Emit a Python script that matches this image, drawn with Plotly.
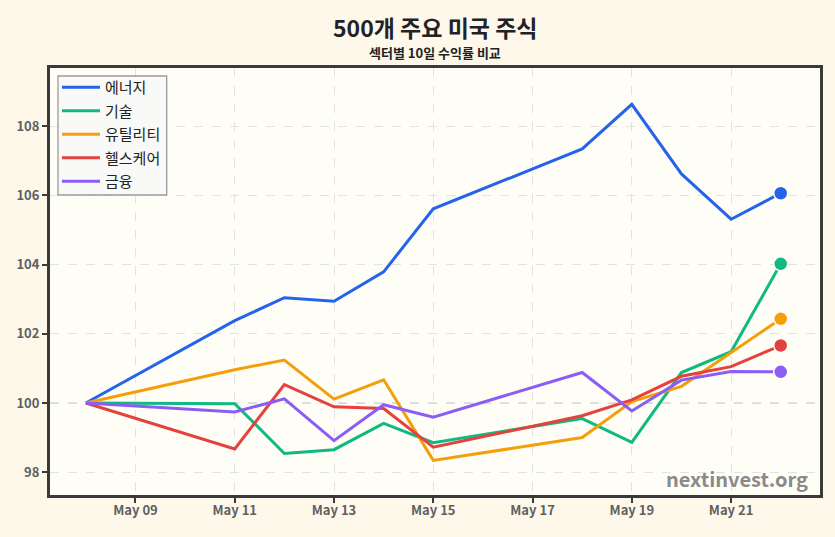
import plotly.graph_objects as go

dates = ["2020-05-08", "2020-05-11", "2020-05-12", "2020-05-13", "2020-05-14",
         "2020-05-15", "2020-05-18", "2020-05-19", "2020-05-20", "2020-05-21", "2020-05-22"]

sector_names = ["에너지", "기술", "유틸리티", "헬스케어", "금융"]
energy = [100, 102.38, 103.04, 102.94, 103.79, 105.61, 107.34, 108.63, 106.62, 105.31, 106.06]
tech = [100, 99.98, 98.54, 98.65, 99.41, 98.85, 99.55, 98.86, 100.88, 101.48, 104.02]
utilities = [100, 100.96, 101.24, 100.11, 100.67, 98.34, 99.00, 100.04, 100.48, 101.45, 102.43]
health = [100, 98.67, 100.53, 99.89, 99.84, 98.72, 99.63, 100.09, 100.77, 101.05, 101.66]
finance = [100, 99.74, 100.12, 98.91, 99.95, 99.59, 100.88, 99.77, 100.66, 100.91, 100.90]
series = [energy, tech, utilities, health, finance]
colors = ["#2563eb", "#10b981", "#f59e0b", "#e5413f", "#8b5cf6"]

tick_dates = ["2020-05-09", "2020-05-11", "2020-05-13", "2020-05-15",
              "2020-05-17", "2020-05-19", "2020-05-21"]
tick_labels = ["May 09", "May 11", "May 13", "May 15", "May 17", "May 19", "May 21"]
y_ticks = [98, 100, 102, 104, 106, 108]

fig = go.Figure()
for i, (name, vals, col) in enumerate(zip(sector_names, series, colors)):
    fig.add_trace(go.Scatter(
        x=dates, y=vals, mode="lines", name=name,
        line=dict(color=col, width=3), legendgroup=f"g{i}",
    ))
for i, (name, vals, col) in enumerate(zip(sector_names, series, colors)):
    fig.add_trace(go.Scatter(
        x=[dates[-1]], y=[vals[-1]], mode="markers", showlegend=False,
        marker=dict(color=col, size=14, line=dict(color="#fffef6", width=1.5)),
        legendgroup=f"g{i}",
    ))

fig.add_hline(y=100, line=dict(color="#b5b5b5", width=1.3, dash="dash"), layer="below")

font_family = "Noto Sans CJK KR, Noto Sans, sans-serif"

PW, PH = 772, 427
# legend box (drawn as shapes) in plot-area pixel offsets
bx0, by0, bw, bh = 8, 8, 109, 119

fig.update_layout(
    width=835, height=537,
    margin=dict(l=50, r=13, t=68, b=42),
    paper_bgcolor="#fdf8e9",
    plot_bgcolor="#fffef6",
    font=dict(family=font_family, color="#555"),
    showlegend=True,
    legend=dict(
        x=7 / PW, y=1 - 3 / PH, xanchor="left", yanchor="top",
        bgcolor="rgba(0,0,0,0)", borderwidth=0,
        font=dict(size=15, color="#222", family=font_family),
        tracegroupgap=1,
        itemwidth=38,
    ),
    xaxis=dict(
        type="date",
        range=["2020-05-07 06:40", "2020-05-22 19:00"],
        tickvals=tick_dates, ticktext=["<b>%s</b>" % t for t in tick_labels],
        showgrid=True, gridcolor="#e2e2e2", griddash="dash", gridwidth=1,
        showline=True, linecolor="#3a3a3a", linewidth=3, mirror=True,
        ticks="outside", ticklen=5, tickwidth=1.5, tickcolor="#3a3a3a",
        tickfont=dict(size=13, color="#5f5f5f", family=font_family),
        ticklabelstandoff=-4,
        zeroline=False,
    ),
    yaxis=dict(
        range=[97.34, 109.68],
        tickvals=y_ticks, ticktext=["<b>%d</b>" % v for v in y_ticks],
        showgrid=True, gridcolor="#e2e2e2", griddash="dash", gridwidth=1,
        showline=True, linecolor="#3a3a3a", linewidth=3, mirror=True,
        ticks="outside", ticklen=5, tickwidth=1.5, tickcolor="#3a3a3a",
        tickfont=dict(size=13, color="#5f5f5f", family=font_family),
        zeroline=False,
    ),
    annotations=[
        dict(text="<b>500개 주요 미국 주식</b>", x=0.5, y=1, xref="paper", yref="paper",
             xanchor="center", yanchor="bottom", yshift=22, xshift=0, showarrow=False,
             font=dict(size=23, color="#1f2328", family=font_family)),
        dict(text="<b>섹터별 10일 수익률 비교</b>", x=0.5, y=1, xref="paper", yref="paper",
             xanchor="center", yanchor="bottom", yshift=4, showarrow=False,
             font=dict(size=13, color="#222", family=font_family)),
        dict(text="<b>nextinvest.org</b>", x=1, y=0, xref="paper", yref="paper",
             xanchor="right", yanchor="bottom", xshift=-10, yshift=0, showarrow=False,
             font=dict(size=20, color="#8a8a8a", family=font_family)),
    ],
    shapes=[
        dict(type="rect", xref="paper", yref="paper",
             x0=(bx0 + 3) / PW, x1=(bx0 + 3 + bw) / PW,
             y0=1 - (by0 + 3 + bh) / PH, y1=1 - (by0 + 3) / PH,
             fillcolor="#7f7f7f", line=dict(width=0), layer="above"),
        dict(type="rect", xref="paper", yref="paper",
             x0=bx0 / PW, x1=(bx0 + bw) / PW,
             y0=1 - (by0 + bh) / PH, y1=1 - by0 / PH,
             fillcolor="#f9f9f7", line=dict(color="#9a9a9a", width=1.3), layer="above"),
    ],
)

fig.write_html("out.html")
